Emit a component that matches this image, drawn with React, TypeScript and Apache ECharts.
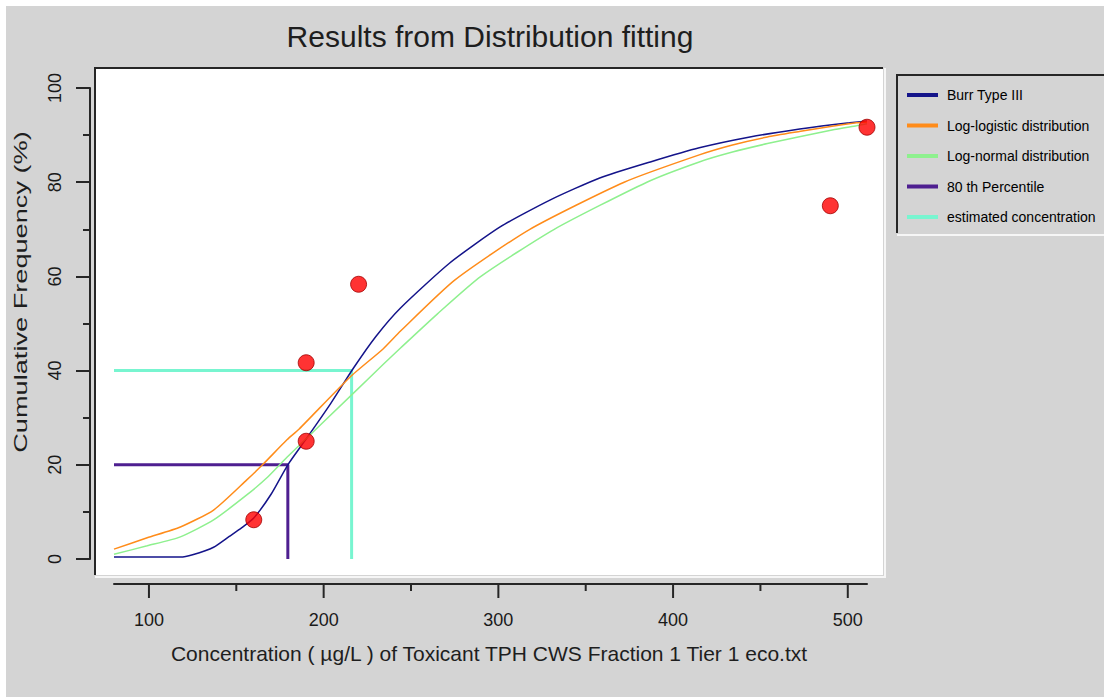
import React, { useEffect, useRef } from "react";
import * as echarts from "echarts";

const titleText = "Results from Distribution fitting";
const xAxisName = "Concentration ( µg/L ) of Toxicant TPH CWS Fraction 1 Tier 1 eco.txt";
const yAxisName = "Cumulative Frequency (%)";

const xMajorTicks = [100, 200, 300, 400, 500];
const xMinorTicks = [150, 250, 350, 450];

const burrX = [80, 118, 125, 137, 146, 153, 160, 170, 179.5, 190, 204, 217, 230, 244, 272, 301, 329.5, 358, 387, 415, 444, 472.5, 491, 501, 511];
const burrY = [0.4, 0.4, 0.9, 2.5, 4.8, 6.6, 8.7, 13.8, 20, 25.5, 33, 40.5, 47.3, 53.3, 62.8, 70.5, 76.2, 80.9, 84.3, 87.3, 89.6, 91.3, 92.2, 92.6, 93];

const logLogX = [80, 99, 118, 137, 156, 165, 179, 186, 215, 234, 244, 275, 318, 372, 415, 434, 454, 473, 491, 505, 511];
const logLogY = [2.1, 4.5, 6.8, 10.4, 16.8, 20, 25.3, 27.6, 38.6, 44.6, 48.4, 59.2, 70, 80, 85.8, 87.9, 89.6, 90.8, 91.9, 92.6, 92.8];

const logNormX = [80, 99, 118, 137, 156, 168, 179, 219, 234, 244, 265, 290, 332, 385, 415, 434, 454, 473, 491, 505, 511];
const logNormY = [1.0, 2.8, 4.7, 8.3, 13.6, 17.4, 21.6, 35.9, 41.3, 44.8, 52, 60, 70, 80, 84.3, 86.4, 88.2, 89.7, 91.1, 92.0, 92.4];

const pctX = [80, 179.5, 179.5];
const pctY = [20, 20, 0];

const estX = [80, 216, 216];
const estY = [40, 40, 0];

const obsX = [160, 190, 190, 220, 490, 511];
const obsY = [8.33, 25, 41.67, 58.33, 75, 91.67];

const seriesNames = [
  "Burr Type III",
  "Log-logistic distribution",
  "Log-normal distribution",
  "80 th Percentile",
  "estimated concentration",
];

const colors = ["#14148a", "#ff8c1a", "#8ef08e", "#4e1f90", "#78f5d0"];

const zip = (xs: number[], ys: number[]) => xs.map((x, i) => [x, ys[i]]);

const FONT = "'Liberation Sans', Arial, sans-serif";
const DARK = "#262626";

export default function App() {
  const ref = useRef<HTMLDivElement>(null);

  useEffect(() => {
    if (!ref.current) return;
    const chart = echarts.init(ref.current, null, { renderer: "svg", width: 1104, height: 697 });

    const lineData = [
      zip(burrX, burrY),
      zip(logLogX, logLogY),
      zip(logNormX, logNormY),
      zip(pctX, pctY),
      zip(estX, estY),
    ];
    const widths = [1.5, 1.5, 1.5, 3, 3];

    const lineSeries = lineData.map((d, i) => ({
      name: seriesNames[i],
      type: "line",
      data: d,
      color: colors[i],
      showSymbol: false,
      symbol: "none",
      smooth: i < 3 ? 0.2 : false,
      lineStyle: { color: colors[i], width: widths[i] },
      itemStyle: { color: colors[i] },
      z: i < 3 ? 3 : 2,
    }));

    const tickData = [
      ...xMajorTicks.map((v) => [v, 1]),
      ...xMinorTicks.map((v) => [v, 0]),
    ];

    const axisLineStyle = { color: DARK, width: 2 };

    chart.setOption({
      animation: false,
      backgroundColor: "#ffffff",
      grid: { left: 114, right: 1104 - 867, top: 88, bottom: 697 - 559, containLabel: false },
      xAxis: {
        type: "value",
        min: 80,
        max: 511,
        position: "bottom",
        offset: 25,
        axisLine: { show: true, onZero: false, lineStyle: axisLineStyle },
        axisTick: { show: false },
        axisLabel: { customValues: xMajorTicks, margin: 27, fontSize: 18, color: "#1a1a1a", fontFamily: FONT },
        splitLine: { show: false },
      },
      yAxis: {
        type: "value",
        min: 0,
        max: 100,
        interval: 20,
        offset: 24,
        axisLine: { show: true, onZero: false, lineStyle: axisLineStyle },
        axisTick: { show: true, length: 14, lineStyle: axisLineStyle },
        minorTick: { show: true, splitNumber: 2, length: 7, lineStyle: axisLineStyle },
        axisLabel: { rotate: 90, margin: 26, fontSize: 18, color: "#1a1a1a", fontFamily: FONT },
        splitLine: { show: false },
        minorSplitLine: { show: false },
      },
      legend: {
        orient: "vertical",
        left: 907,
        top: 86,
        padding: 0,
        itemWidth: 31,
        itemHeight: 4,
        itemGap: 12.5,
        icon: "rect",
        data: seriesNames,
        selectedMode: false,
        textStyle: { fontSize: 14, color: "#000", fontFamily: FONT, lineHeight: 18, padding: [0, 0, 0, 4] },
      },
      graphic: [
        { type: "rect", shape: { x: 6, y: 6, width: 1098, height: 691 }, style: { fill: "#d4d4d4" }, z: -10 },
        { type: "rect", shape: { x: 95, y: 68, width: 788, height: 507 }, style: { fill: "#ffffff" }, z: -9 },
        { type: "polyline", shape: { points: [[95, 575], [95, 68], [883, 68]] }, style: { stroke: DARK, lineWidth: 2, fill: null }, z: -8 },
        { type: "polyline", shape: { points: [[885, 68], [885, 577], [95, 577]] }, style: { stroke: "#f6f6f6", lineWidth: 2, fill: null }, z: -8 },
        { type: "polyline", shape: { points: [[897, 233], [897, 75], [1104, 75]] }, style: { stroke: DARK, lineWidth: 2, fill: null }, z: -8 },
        { type: "line", shape: { x1: 897, y1: 235, x2: 1104, y2: 235 }, style: { stroke: "#f6f6f6", lineWidth: 2 }, z: -8 },
        {
          type: "text",
          x: 490,
          y: 36,
          style: { text: titleText, font: `30px ${FONT}`, fill: "#1e1e1e", align: "center", verticalAlign: "middle", textAlign: "center", textVerticalAlign: "middle" },
        },
        {
          type: "text",
          x: 489,
          y: 653,
          style: { text: xAxisName, font: `21px ${FONT}`, fill: "#1e1e1e", align: "center", verticalAlign: "middle", textAlign: "center", textVerticalAlign: "middle" },
        },
        {
          type: "text",
          x: 21,
          y: 292,
          rotation: Math.PI / 2,
          scaleX: 1.43,
          style: { text: yAxisName, font: `19px ${FONT}`, fill: "#1e1e1e", align: "center", verticalAlign: "middle", textAlign: "center", textVerticalAlign: "middle" },
        },
      ],
      series: [
        ...lineSeries,
        {
          name: "ticks",
          type: "custom",
          clip: false,
          silent: true,
          data: tickData,
          renderItem: (params: any, api: any) => {
            const p = api.coord([api.value(0), 0]);
            const y0 = p[1] + 25;
            const len = api.value(1) ? 14 : 7;
            return {
              type: "line",
              shape: { x1: p[0], y1: y0, x2: p[0], y2: y0 + len },
              style: { stroke: DARK, lineWidth: 2 },
            };
          },
        },
        {
          name: "Observed",
          type: "scatter",
          data: zip(obsX, obsY),
          symbol: "circle",
          symbolSize: 16,
          itemStyle: { color: "#ff0000", borderColor: "#a00000", borderWidth: 1 },
          z: 5,
        },
      ],
    });

    return () => chart.dispose();
  }, []);

  return <div ref={ref} style={{ position: "fixed", left: 0, top: 0, width: 1104, height: 697 }} />;
}
